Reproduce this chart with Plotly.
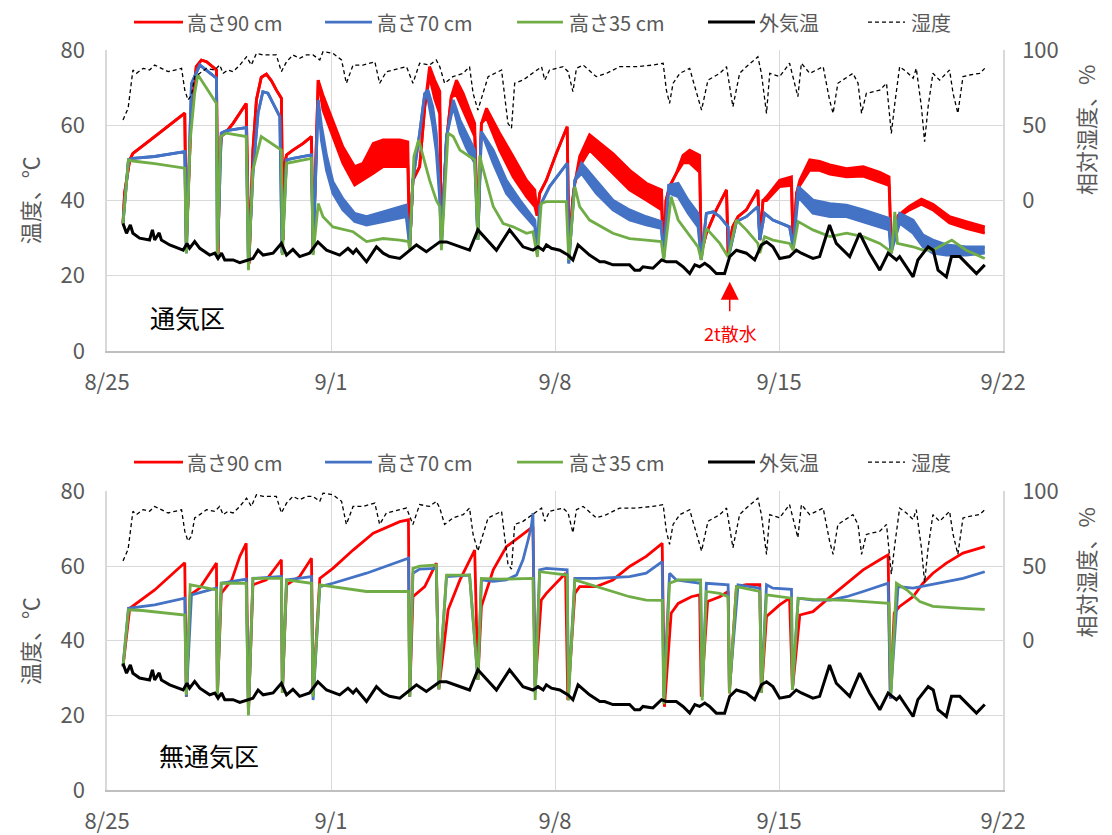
import pandas as pd
import plotly.graph_objects as go

BASE = pd.Timestamp("2019-08-25")
X_TICK_DAYS = [0, 7, 14, 21, 28]
X_TICKS = ["8/25", "9/1", "9/8", "9/15", "9/22"]
Y_TICKS = [0, 20, 40, 60, 80]
RH_TICKS = [0, 50, 100]
NAMES = ["高さ90 cm", "高さ70 cm", "高さ35 cm", "外気温", "湿度"]
COLORS = ["#FF0000", "#4472C4", "#70AD47", "#000000", "#000000"]

# (day offset from 8/25, value)
outside_temp = [
    (0.50, 33.9), (0.61, 31.3), (0.73, 33.5), (0.81, 31.3), (1.02, 30.0), (1.33, 29.5), (1.42, 32.2),
    (1.49, 29.5), (1.63, 31.4), (1.70, 29.5), (1.96, 28.2), (2.38, 26.8), (2.50, 28.6), (2.58, 27.3),
    (2.74, 29.1), (2.90, 27.3), (3.21, 25.5), (3.37, 26.0), (3.47, 24.6), (3.58, 26.0), (3.68, 24.2),
    (3.94, 24.2), (4.15, 23.5), (4.41, 24.2), (4.56, 24.6), (4.72, 26.8), (4.88, 25.5), (5.19, 26.0),
    (5.45, 28.6), (5.61, 25.5), (5.81, 27.0), (6.02, 25.1), (6.33, 26.0), (6.59, 29.0), (6.86, 26.8),
    (7.27, 25.5), (7.53, 27.3), (7.69, 26.0), (7.79, 27.0), (8.11, 23.7), (8.42, 27.7), (8.63, 26.0),
    (8.83, 25.1), (9.15, 24.6), (9.46, 26.8), (9.67, 28.2), (9.98, 26.4), (10.40, 29.0), (10.61, 29.0),
    (11.02, 27.7), (11.33, 26.8), (11.59, 32.2), (12.17, 26.8), (12.58, 32.2), (13.00, 27.7),
    (13.31, 26.8), (13.47, 27.7), (13.63, 26.8), (13.73, 28.2), (13.89, 27.3), (14.15, 26.8),
    (14.41, 25.5), (14.56, 24.2), (14.72, 28.2), (15.08, 25.5), (15.40, 23.7), (15.55, 23.7),
    (15.81, 22.9), (16.33, 22.9), (16.49, 21.5), (16.65, 21.5), (16.75, 22.4), (17.06, 22.0),
    (17.33, 24.2), (17.48, 23.7), (17.79, 23.7), (18.00, 22.4), (18.21, 20.6), (18.37, 22.9),
    (18.52, 22.4), (18.68, 23.3), (18.83, 22.4), (19.04, 20.6), (19.30, 20.6), (19.46, 25.1),
    (19.67, 26.8), (19.98, 26.0), (20.24, 24.2), (20.45, 28.2), (20.61, 29.0), (20.81, 27.7),
    (21.02, 24.6), (21.33, 25.1), (21.54, 26.8), (21.70, 26.0), (22.06, 24.6), (22.27, 25.1),
    (22.58, 33.5), (22.79, 28.6), (23.21, 25.1), (23.52, 31.3), (23.83, 26.0), (24.15, 21.5),
    (24.41, 26.0), (24.67, 24.2), (24.77, 25.1), (25.19, 19.7), (25.34, 24.2), (25.66, 27.7),
    (25.82, 26.8), (25.97, 21.5), (26.23, 19.7), (26.39, 25.1), (26.65, 25.1), (27.17, 20.6),
    (27.43, 22.9),
]

humidity = [
    (0.50, 53.5), (0.66, 61.3), (0.81, 86.7), (0.92, 84.5), (1.13, 87.8), (1.33, 86.7), (1.49, 90.0),
    (1.70, 87.8), (1.91, 85.6), (2.12, 86.7), (2.33, 87.8), (2.43, 73.4), (2.53, 66.8), (2.64, 70.1),
    (2.74, 82.3), (2.90, 84.5), (3.11, 87.8), (3.37, 86.7), (3.52, 90.0), (3.63, 84.5), (3.78, 86.7),
    (3.94, 85.6), (4.15, 90.0), (4.36, 95.5), (4.51, 90.0), (4.67, 97.8), (4.88, 96.7), (5.08, 96.7),
    (5.29, 96.7), (5.45, 85.6), (5.61, 92.2), (5.81, 96.7), (6.02, 94.5), (6.23, 96.7), (6.44, 96.7),
    (6.65, 93.4), (6.75, 98.9), (7.06, 97.8), (7.33, 93.4), (7.48, 77.9), (7.69, 90.0), (8.00, 90.0),
    (8.37, 92.2), (8.52, 77.9), (8.73, 85.6), (9.15, 87.8), (9.36, 88.9), (9.56, 77.9), (9.77, 91.2),
    (10.08, 90.0), (10.29, 93.4), (10.40, 88.9), (10.55, 77.9), (10.81, 82.3), (11.13, 84.5),
    (11.33, 88.9), (11.44, 71.2), (11.59, 60.1), (11.75, 72.0), (11.91, 82.3), (12.33, 86.7),
    (12.53, 51.3), (12.64, 48.0), (12.74, 77.9), (13.00, 80.0), (13.31, 84.5), (13.58, 88.9),
    (13.68, 80.0), (13.83, 86.7), (14.25, 88.9), (14.41, 85.6), (14.56, 72.3), (14.67, 87.8),
    (14.88, 90.0), (15.29, 82.3), (15.61, 84.5), (16.02, 88.9), (16.54, 88.9), (17.06, 90.0),
    (17.38, 91.2), (17.48, 73.4), (17.58, 64.6), (17.69, 77.9), (17.90, 84.5), (18.21, 87.8),
    (18.31, 80.0), (18.58, 60.1), (18.78, 80.0), (19.15, 84.5), (19.36, 88.9), (19.56, 62.3),
    (19.77, 84.5), (19.98, 88.9), (20.34, 95.5), (20.45, 84.5), (20.61, 57.9), (20.71, 84.5),
    (21.02, 82.3), (21.33, 91.2), (21.59, 69.0), (21.70, 91.2), (21.96, 84.5), (22.38, 88.9),
    (22.58, 66.8), (22.69, 57.9), (22.84, 77.9), (23.31, 84.5), (23.47, 77.9), (23.58, 57.9),
    (23.73, 71.2), (24.15, 73.4), (24.36, 77.9), (24.51, 44.6), (24.62, 64.6), (24.77, 88.9),
    (24.98, 85.6), (25.19, 81.2), (25.29, 87.8), (25.45, 62.3), (25.55, 39.0), (25.66, 62.3),
    (25.81, 84.5), (26.02, 80.0), (26.33, 86.7), (26.44, 71.2), (26.59, 57.9), (26.75, 82.3),
    (26.96, 83.4), (27.27, 84.5), (27.43, 87.8),
]

# 通気区 (ventilated) : (day, daily high, daily low)
top_h90 = [
    (0.50, 33.9, 33.9), (0.55, 42.0, 42.0), (0.71, 50.8, 50.8), (0.81, 52.5, 52.5), (1.49, 57.0, 57.0),
    (2.01, 60.5, 60.5), (2.43, 63.2, 63.2), (2.48, 28.6, 28.6), (2.55, 45.0, 45.0), (2.64, 64.9, 64.9),
    (2.79, 75.6, 75.6), (2.95, 77.3, 77.3), (3.11, 76.9, 76.9), (3.31, 75.6, 75.6), (3.42, 74.7, 74.7),
    (3.47, 26.0, 26.0), (3.52, 50.0, 50.0), (3.57, 57.0, 57.0), (3.73, 58.3, 58.3), (3.94, 60.5, 60.5),
    (4.15, 63.2, 63.2), (4.35, 65.8, 65.8), (4.44, 23.3, 23.3), (4.50, 40.0, 40.0), (4.56, 53.4, 53.4),
    (4.67, 66.8, 66.8), (4.82, 72.7, 72.7), (4.98, 73.6, 73.6), (5.14, 71.8, 71.8), (5.29, 69.4, 69.4),
    (5.45, 67.2, 67.2), (5.50, 29.5, 29.5), (5.56, 50.0, 50.0), (5.61, 52.1, 52.1), (5.81, 53.4, 53.4),
    (6.13, 55.2, 55.2), (6.39, 57.0, 57.0), (6.44, 26.0, 26.0), (6.55, 60.0, 60.0), (6.60, 72.0, 72.0),
    (6.75, 68.0, 64.0), (7.06, 61.4, 57.0), (7.37, 54.3, 49.9), (7.74, 49.0, 44.1), (8.00, 49.9, 45.4),
    (8.32, 55.2, 47.2), (8.63, 56.1, 49.0), (9.15, 56.1, 49.0), (9.40, 55.6, 49.0), (9.46, 27.7, 27.7),
    (9.56, 45.4, 45.4), (9.77, 49.0, 49.0), (9.93, 64.9, 64.9), (10.08, 75.6, 73.0), (10.24, 72.0, 67.0),
    (10.40, 69.0, 63.0), (10.45, 29.5, 29.5), (10.61, 56.1, 56.1), (10.76, 67.6, 67.6), (10.92, 72.0, 68.0),
    (11.13, 68.5, 64.0), (11.33, 64.0, 60.0), (11.49, 60.5, 57.0), (11.59, 30.4, 30.4), (11.70, 60.5, 60.5),
    (11.86, 64.5, 62.0), (12.27, 57.9, 53.4), (12.69, 51.7, 46.3), (13.11, 45.4, 41.0), (13.37, 42.8, 38.4),
    (13.44, 36.0, 36.0), (13.52, 41.9, 41.9), (13.73, 45.4, 45.4), (14.04, 52.5, 52.5), (14.31, 57.9, 57.9),
    (14.38, 59.6, 59.6), (14.44, 26.0, 26.0), (14.55, 40.0, 40.0), (14.62, 44.6, 44.6), (14.77, 51.7, 49.0),
    (15.08, 57.5, 53.4), (15.81, 52.5, 47.2), (16.33, 48.1, 42.8), (16.85, 44.6, 40.1), (17.33, 42.8, 37.5),
    (17.40, 26.0, 26.0), (17.47, 40.0, 40.0), (17.58, 43.7, 43.7), (17.79, 47.2, 47.2), (18.00, 52.0, 50.0),
    (18.21, 53.4, 50.0), (18.52, 52.0, 47.5), (18.57, 26.0, 26.0), (18.73, 31.3, 31.3), (19.04, 37.5, 37.5),
    (19.36, 42.8, 42.8), (19.41, 26.0, 26.0), (19.55, 33.0, 33.0), (19.72, 35.7, 35.7), (19.98, 37.5, 37.5),
    (20.34, 42.8, 42.8), (20.40, 29.5, 29.5), (20.50, 40.0, 40.0), (20.61, 41.0, 40.0), (21.02, 45.4, 43.7),
    (21.39, 46.3, 44.0), (21.44, 27.7, 27.7), (21.55, 42.0, 42.0), (21.65, 45.4, 44.0), (21.96, 50.8, 48.1),
    (22.27, 50.4, 48.0), (22.59, 49.5, 47.0), (23.11, 48.5, 46.3), (23.63, 49.0, 46.5), (24.15, 47.5, 45.0),
    (24.44, 46.3, 44.0), (24.51, 26.8, 26.8), (24.72, 36.0, 35.5), (25.08, 38.5, 37.5), (25.45, 40.4, 39.0),
    (25.81, 39.0, 37.5), (26.33, 35.7, 34.0), (26.85, 34.4, 32.6), (27.43, 33.0, 31.3),
]

top_h70 = [
    (0.50, 33.9, 33.9), (0.67, 50.8, 50.8), (0.81, 51.2, 51.2), (1.49, 51.7, 51.7), (2.43, 53.0, 53.0),
    (2.48, 26.0, 26.0), (2.64, 71.1, 71.1), (2.90, 76.0, 76.0), (3.42, 72.5, 72.5), (3.45, 24.5, 24.5),
    (3.57, 57.9, 57.9), (3.73, 58.6, 58.6), (4.35, 59.4, 59.4), (4.42, 22.4, 22.4), (4.56, 47.2, 47.2),
    (4.72, 63.2, 63.2), (4.87, 68.9, 68.9), (5.03, 68.5, 68.5), (5.19, 65.8, 65.8), (5.40, 62.3, 62.3),
    (5.47, 26.0, 26.0), (5.61, 50.8, 50.8), (5.81, 51.2, 51.2), (6.39, 52.1, 52.1), (6.44, 26.0, 26.0),
    (6.60, 66.7, 66.7), (6.70, 60.0, 56.0), (6.86, 52.0, 48.0), (7.06, 45.0, 41.9), (7.37, 40.5, 37.5),
    (7.74, 36.6, 34.4), (8.11, 35.7, 33.5), (8.63, 37.0, 34.4), (9.35, 38.8, 35.7), (9.46, 27.7, 27.7),
    (9.56, 45.4, 45.4), (9.77, 57.9, 57.9), (9.93, 68.5, 68.5), (10.03, 69.4, 67.0), (10.18, 64.9, 60.0),
    (10.29, 57.9, 53.0), (10.40, 42.0, 40.1), (10.45, 27.7, 27.7), (10.61, 57.0, 57.0), (10.82, 66.7, 65.0),
    (11.03, 61.4, 58.0), (11.23, 57.9, 54.0), (11.49, 53.4, 50.0), (11.59, 29.5, 29.5), (11.70, 58.3, 58.3),
    (12.07, 53.4, 49.9), (12.48, 45.4, 41.9), (12.90, 40.1, 37.5), (13.37, 34.8, 33.0), (13.45, 26.0, 26.0),
    (13.52, 38.4, 38.4), (13.83, 43.7, 43.7), (14.15, 47.2, 47.2), (14.38, 49.9, 49.9), (14.43, 23.3, 23.3),
    (14.62, 45.4, 45.4), (14.83, 49.9, 47.2), (15.29, 45.4, 41.9), (15.81, 40.1, 37.5), (16.33, 37.5, 34.8),
    (16.85, 35.7, 33.5), (17.32, 34.4, 32.6), (17.40, 25.0, 25.0), (17.55, 44.1, 42.0), (17.85, 44.6, 41.0),
    (18.16, 40.1, 36.6), (18.47, 36.6, 33.0), (18.57, 24.2, 24.2), (18.73, 36.6, 36.6), (18.94, 37.0, 37.0),
    (19.15, 35.7, 35.7), (19.41, 33.0, 33.0), (19.45, 26.0, 26.0), (19.67, 34.4, 34.4), (19.98, 35.7, 35.7),
    (20.34, 38.4, 38.4), (20.40, 29.5, 29.5), (20.55, 36.6, 36.6), (20.81, 34.8, 34.8), (21.33, 33.0, 33.0),
    (21.44, 27.7, 27.7), (21.60, 43.7, 41.0), (22.06, 40.1, 36.6), (22.59, 39.2, 35.7), (23.11, 38.8, 35.7),
    (23.63, 37.5, 34.4), (24.15, 36.1, 33.0), (24.44, 35.3, 32.2), (24.50, 26.0, 26.0), (24.77, 36.6, 34.0),
    (25.19, 34.8, 31.3), (25.50, 30.8, 27.7), (25.81, 29.5, 26.0), (26.23, 28.2, 25.5), (26.85, 27.7, 25.5),
    (27.43, 27.7, 26.0),
]

top_h35 = [
    (0.50, 33.9), (0.67, 50.8), (0.81, 50.5), (1.49, 49.8), (2.43, 48.6), (2.48, 26.0), (2.60, 56.0),
    (2.74, 68.5), (2.84, 73.4), (3.42, 65.8), (3.45, 25.0), (3.55, 57.0), (3.73, 57.9), (4.35, 57.0),
    (4.42, 21.5), (4.56, 48.1), (4.82, 57.0), (4.98, 56.1), (5.45, 53.4), (5.48, 25.5), (5.61, 49.9),
    (6.39, 51.2), (6.44, 25.5), (6.60, 39.2), (6.75, 35.7), (7.06, 33.0), (7.69, 31.7), (8.11, 29.1),
    (8.63, 29.9), (9.15, 29.5), (9.42, 29.1), (9.46, 27.0), (9.59, 51.7), (9.74, 56.1), (10.08, 45.4),
    (10.29, 40.1), (10.40, 38.4), (10.45, 26.8), (10.66, 57.9), (10.82, 57.0), (11.03, 53.4), (11.33, 51.7),
    (11.49, 50.8), (11.59, 29.5), (11.65, 52.0), (11.70, 50.0), (12.07, 38.4), (12.38, 33.9), (12.69, 33.0),
    (13.11, 31.3), (13.31, 31.7), (13.45, 25.0), (13.57, 39.2), (13.73, 39.7), (14.35, 39.7), (14.43, 24.2),
    (14.62, 43.7), (14.77, 38.4), (15.08, 34.8), (15.81, 31.3), (16.33, 29.9), (16.85, 29.5), (17.32, 29.1),
    (17.40, 24.2), (17.63, 41.0), (17.85, 34.8), (18.16, 31.3), (18.47, 27.7), (18.57, 24.2), (18.73, 32.6),
    (19.15, 28.6), (19.41, 25.0), (19.67, 34.8), (19.98, 32.2), (20.34, 28.6), (20.40, 26.0), (20.55, 30.4),
    (20.81, 29.5), (21.33, 28.6), (21.44, 26.8), (21.60, 34.4), (22.06, 32.2), (22.59, 30.4), (23.11, 31.3),
    (23.63, 30.4), (24.15, 28.6), (24.44, 26.8), (24.52, 26.0), (24.62, 37.0), (24.70, 28.6), (25.19, 27.7),
    (25.50, 26.8), (25.81, 26.8), (26.00, 27.7), (26.40, 29.5), (26.85, 26.8), (27.43, 24.6),
]

# 無通気区 (non-ventilated)
bot_h90 = [
    (0.50, 33.1), (0.71, 48.7), (1.49, 53.6), (2.01, 57.6), (2.43, 60.9), (2.48, 25.0), (2.60, 52.3),
    (2.90, 54.1), (3.21, 58.1), (3.42, 60.8), (3.45, 25.5), (3.57, 52.7), (3.90, 56.3), (4.15, 62.6),
    (4.35, 66.1), (4.42, 20.6), (4.56, 55.0), (4.98, 56.3), (5.45, 61.7), (5.48, 26.0), (5.61, 55.0),
    (6.02, 57.2), (6.39, 62.1), (6.44, 25.5), (6.65, 56.7), (7.06, 59.4), (7.69, 64.3), (8.32, 68.8),
    (9.15, 71.9), (9.42, 72.4), (9.46, 25.0), (9.56, 51.8), (9.93, 54.5), (10.14, 58.1), (10.29, 60.8),
    (10.37, 27.0), (10.66, 48.3), (11.03, 56.3), (11.33, 61.7), (11.49, 64.3), (11.59, 29.5), (11.70, 49.2),
    (12.07, 59.0), (12.48, 65.2), (12.90, 67.9), (13.31, 70.6), (13.38, 28.0), (13.57, 50.9), (13.73, 52.7),
    (14.04, 55.4), (14.33, 58.1), (14.40, 24.1), (14.62, 52.7), (14.77, 54.5), (15.29, 54.5), (15.81, 56.3),
    (16.33, 59.9), (16.85, 62.6), (17.35, 66.1), (17.42, 22.3), (17.63, 47.4), (17.85, 50.0), (18.26, 51.8),
    (18.52, 52.3), (18.57, 25.0), (18.77, 50.5), (19.15, 51.8), (19.41, 53.2), (19.45, 25.9), (19.67, 54.5),
    (19.98, 55.0), (20.40, 55.0), (20.45, 26.0), (20.61, 46.5), (21.02, 49.6), (21.33, 51.4), (21.42, 27.0),
    (21.65, 46.9), (22.06, 47.8), (22.48, 50.9), (23.11, 55.4), (23.63, 59.0), (24.15, 61.7), (24.41, 63.0),
    (24.48, 24.5), (24.60, 47.4), (24.77, 49.2), (25.19, 51.8), (25.50, 55.4), (25.81, 58.1), (26.23, 60.8),
    (26.75, 63.5), (27.43, 65.2),
]

bot_h70 = [
    (0.50, 33.1), (0.67, 48.7), (1.49, 49.6), (2.43, 51.4), (2.48, 25.0), (2.64, 52.3), (3.42, 54.1),
    (3.45, 25.5), (3.57, 55.4), (4.35, 56.5), (4.42, 21.0), (4.56, 56.7), (5.45, 57.2), (5.48, 26.0),
    (5.61, 56.3), (6.39, 57.2), (6.44, 24.1), (6.65, 54.5), (7.06, 55.4), (8.11, 58.1), (9.42, 62.1),
    (9.46, 25.0), (9.56, 58.1), (9.77, 59.2), (10.29, 59.4), (10.37, 27.0), (10.61, 57.2), (11.33, 57.6),
    (11.59, 29.5), (11.70, 56.3), (12.07, 55.9), (12.48, 56.3), (12.80, 57.6), (13.00, 61.7), (13.16, 67.0),
    (13.26, 70.6), (13.31, 74.2), (13.38, 26.0), (13.52, 59.0), (13.73, 59.4), (14.38, 59.0), (14.42, 25.5),
    (14.62, 56.7), (15.29, 56.7), (16.33, 57.2), (16.85, 58.1), (17.35, 61.2), (17.40, 25.0), (17.58, 58.1),
    (17.79, 56.3), (18.55, 55.4), (18.60, 25.0), (18.73, 55.4), (19.41, 55.0), (19.45, 27.0), (19.72, 55.0),
    (20.40, 54.1), (20.45, 27.0), (20.61, 55.0), (20.81, 54.1), (21.39, 53.8), (21.42, 27.0), (21.60, 51.4),
    (22.06, 50.9), (22.59, 50.9), (23.11, 51.8), (23.63, 53.2), (24.41, 55.4), (24.48, 24.5), (24.72, 54.5),
    (25.19, 54.1), (25.71, 55.0), (26.23, 55.9), (26.75, 56.7), (27.43, 58.5),
]

bot_h35 = [
    (0.50, 33.1), (0.67, 48.3), (1.10, 48.1), (1.49, 47.8), (2.01, 47.4), (2.43, 46.9), (2.48, 25.5),
    (2.60, 55.0), (2.90, 54.5), (3.42, 53.6), (3.45, 25.0), (3.57, 55.4), (4.35, 55.4), (4.42, 20.0),
    (4.56, 56.7), (5.45, 56.7), (5.48, 26.0), (5.61, 56.3), (6.39, 55.4), (6.44, 25.0), (6.65, 55.0),
    (7.06, 54.5), (8.11, 53.2), (9.42, 53.2), (9.46, 25.0), (9.56, 59.4), (9.77, 60.0), (10.29, 60.3),
    (10.37, 27.0), (10.61, 57.6), (11.33, 57.6), (11.59, 29.5), (11.70, 56.7), (12.27, 56.5), (13.31, 56.7),
    (13.38, 24.1), (13.52, 58.5), (14.38, 57.6), (14.42, 24.0), (14.62, 56.3), (15.29, 54.5), (15.81, 53.2),
    (16.33, 51.8), (16.85, 50.9), (17.35, 50.8), (17.40, 23.0), (17.58, 55.4), (17.85, 56.3), (18.55, 56.3),
    (18.60, 24.0), (18.73, 53.2), (19.15, 52.7), (19.41, 51.8), (19.45, 25.9), (19.67, 54.5), (20.40, 53.2),
    (20.45, 26.0), (20.61, 52.3), (21.39, 51.4), (21.42, 26.8), (21.60, 51.4), (22.06, 51.1), (23.11, 50.8),
    (24.44, 50.0), (24.50, 25.9), (24.67, 55.4), (25.00, 53.6), (25.40, 50.5), (25.81, 49.2), (26.75, 48.7),
    (27.43, 48.4),
]

GRAY = "#595959"
GRID = "#D9D9D9"
FONT = "Noto Sans CJK JP"
WIDTHS = [2.8, 2.8, 2.8, 3.0, 1.3]
DASHES = [None, None, None, None, "4px,3px"]

# legend key layout (paper fractions): swatch start, swatch end, text start
KEY_X0 = [0.0301, 0.2433, 0.4576, 0.6708, 0.8493]
KEY_X1 = [0.0848, 0.2958, 0.5089, 0.7232, 0.8906]
KEY_TX = [0.0871, 0.2992, 0.5134, 0.7255, 0.8951]
KEY_Y = [1.0378, 0.4432]


def xs(rows):
    return [BASE + pd.Timedelta(days=r[0]) for r in rows]


def col(rows, i):
    return [r[i] for r in rows]


fig = go.Figure()


def add_line(rows, idx, xa, ya):
    fig.add_trace(go.Scatter(
        x=xs(rows), y=col(rows, 1), mode="lines", name=NAMES[idx],
        line=dict(color=COLORS[idx], width=WIDTHS[idx], dash=DASHES[idx]),
        xaxis=xa, yaxis=ya, showlegend=False, hoverinfo="skip"))


def add_band(rows, idx, xa, ya):
    fig.add_trace(go.Scatter(
        x=xs(rows), y=col(rows, 2), mode="lines", name=NAMES[idx],
        line=dict(color=COLORS[idx], width=WIDTHS[idx]),
        xaxis=xa, yaxis=ya, showlegend=False, hoverinfo="skip"))
    fig.add_trace(go.Scatter(
        x=xs(rows), y=col(rows, 1), mode="lines", name=NAMES[idx],
        line=dict(color=COLORS[idx], width=WIDTHS[idx]), fill="tonexty", fillcolor=COLORS[idx],
        xaxis=xa, yaxis=ya, showlegend=False, hoverinfo="skip"))


# top panel
add_band(top_h90, 0, "x", "y")
add_band(top_h70, 1, "x", "y")
add_line(top_h35, 2, "x", "y")
add_line(outside_temp, 3, "x", "y")
add_line(humidity, 4, "x", "y2")
# bottom panel
add_line(bot_h90, 0, "x2", "y3")
add_line(bot_h70, 1, "x2", "y3")
add_line(bot_h35, 2, "x2", "y3")
add_line(outside_temp, 3, "x2", "y3")
add_line(humidity, 4, "x2", "y4")

tickvals = [BASE + pd.Timedelta(days=d) for d in X_TICK_DAYS]
xrange = [tickvals[0], tickvals[-1]]

xaxis_common = dict(
    range=xrange, tickvals=tickvals, ticktext=X_TICKS, showgrid=True, gridcolor=GRID, gridwidth=1,
    showline=True, linecolor="#BFBFBF", linewidth=1.5, ticks="", zeroline=False, automargin=False,
    tickfont=dict(size=22, color=GRAY, family=FONT), ticklabelstandoff=11,
)
yleft_common = dict(
    range=[0, 80], tickvals=Y_TICKS, showgrid=True, gridcolor=GRID, gridwidth=1,
    showline=True, linecolor=GRID, linewidth=1.5, ticks="", zeroline=False, automargin=False,
    tickfont=dict(size=22, color=GRAY, family=FONT), ticklabelstandoff=16,
)
yright_common = dict(
    range=[-100, 100], tickvals=RH_TICKS, showgrid=False, side="right",
    showline=True, linecolor=GRID, linewidth=1.5, ticks="", zeroline=False, automargin=False,
    tickfont=dict(size=22, color=GRAY, family=FONT), ticklabelstandoff=13,
)

TOP_DOM = [0.5932, 1.0]
BOT_DOM = [0.0, 0.4034]

# legend keys (swatch + label) for both panels
key_shapes = []
key_labels = []
for ky in KEY_Y:
    for i in range(5):
        key_shapes.append(dict(
            type="line", xref="paper", yref="paper", x0=KEY_X0[i], x1=KEY_X1[i], y0=ky, y1=ky,
            line=dict(color=COLORS[i], width=WIDTHS[i], dash=DASHES[i])))
        key_labels.append(dict(
            text=NAMES[i], xref="paper", yref="paper", x=KEY_TX[i], y=ky, xanchor="left",
            yanchor="middle", showarrow=False, font=dict(size=20, color=GRAY, family=FONT)))

arrow_x = BASE + pd.Timedelta(days=19.46)
text_x = BASE + pd.Timedelta(days=19.49)
title_font = dict(size=22, color=GRAY, family=FONT)

fig.update_layout(
    width=1096, height=827,
    margin=dict(l=99, r=101, t=42, b=45, autoexpand=False),
    paper_bgcolor="white", plot_bgcolor="white",
    font=dict(family=FONT, color=GRAY),
    showlegend=False,
    xaxis=dict(domain=[0, 1], anchor="y", **xaxis_common),
    yaxis=dict(domain=TOP_DOM, anchor="x", **yleft_common),
    yaxis2=dict(overlaying="y", anchor="x", **yright_common),
    xaxis2=dict(domain=[0, 1], anchor="y3", **xaxis_common),
    yaxis3=dict(domain=BOT_DOM, anchor="x2", **yleft_common),
    yaxis4=dict(overlaying="y3", anchor="x2", **yright_common),
    shapes=key_shapes,
    annotations=key_labels + [
        dict(text="温度、℃", xref="paper", yref="paper", x=-0.0871, y=0.797, textangle=-90,
             xanchor="center", yanchor="middle", showarrow=False, font=title_font),
        dict(text="温度、℃", xref="paper", yref="paper", x=-0.0871, y=0.2014, textangle=-90,
             xanchor="center", yanchor="middle", showarrow=False, font=title_font),
        dict(text="相対湿度、%", xref="paper", yref="paper", x=1.0915, y=0.892, textangle=-90,
             xanchor="center", yanchor="middle", showarrow=False, font=title_font),
        dict(text="相対湿度、%", xref="paper", yref="paper", x=1.0915, y=0.294, textangle=-90,
             xanchor="center", yanchor="middle", showarrow=False, font=title_font),
        dict(text="通気区", xref="x", yref="y", x=BASE + pd.Timedelta(days=2.52), y=9.0,
             showarrow=False, font=dict(size=25, color="#000000", family=FONT)),
        dict(text="無通気区", xref="x2", yref="y3", x=BASE + pd.Timedelta(days=3.18), y=9.4,
             showarrow=False, font=dict(size=25, color="#000000", family=FONT)),
        dict(text="2t散水", xref="x", yref="y", x=text_x, y=4.9,
             showarrow=False, font=dict(size=18, color="#FF0000", family=FONT)),
        dict(text="", xref="x", yref="y", x=arrow_x, y=18.4, ax=arrow_x, ay=10.2,
             axref="x", ayref="y", showarrow=True, arrowhead=2, arrowsize=2.4,
             arrowwidth=1.5, arrowcolor="#FF0000"),
    ],
)

fig.write_html("out.html")
